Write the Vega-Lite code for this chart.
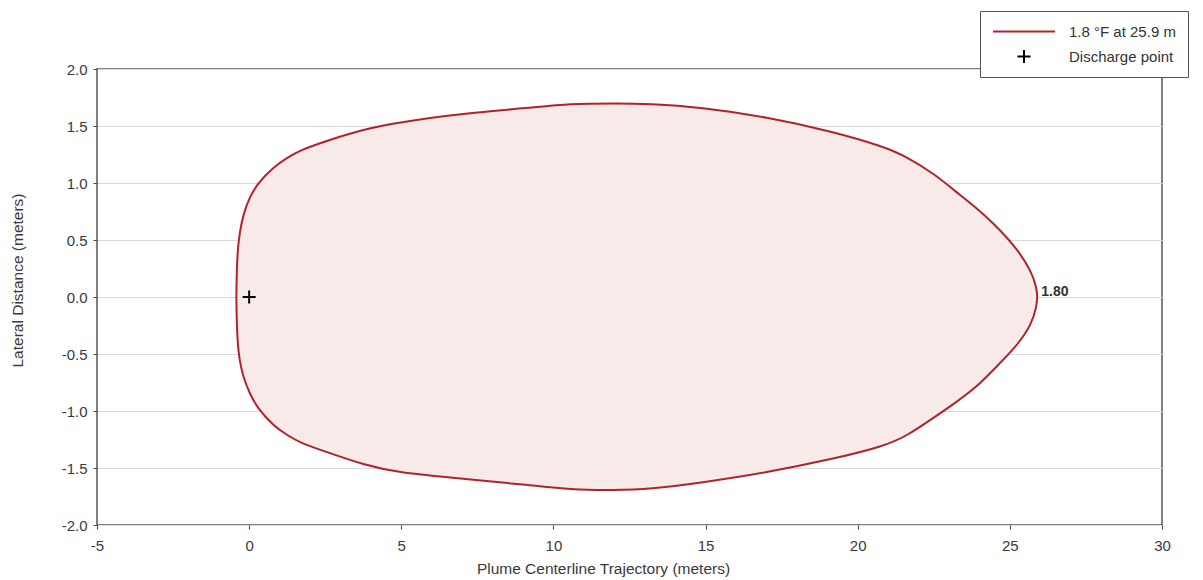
{
  "$schema": "https://vega.github.io/schema/vega-lite/v6.json",
  "width": 1065,
  "height": 456,
  "autosize": {"type": "none"},
  "padding": {"left": 97, "top": 69, "right": 41, "bottom": 55},
  "background": "white",
  "config": {
    "font": "Liberation Sans",
    "view": {"stroke": "#555555", "strokeWidth": 1.5},
    "axis": {
      "labelFont": "Liberation Sans",
      "titleFont": "Liberation Sans",
      "labelColor": "#3a3a3a",
      "titleColor": "#3a3a3a",
      "titleFontWeight": "normal",
      "labelFontSize": 15,
      "titleFontSize": 15.5,
      "domain": false,
      "tickColor": "#444444",
      "tickSize": 4,
      "labelFlush": false
    }
  },
  "datasets": {
    "plume": [
      {"x": -0.42, "upper": 0.0, "lower": 0.0},
      {"x": -0.41, "upper": 0.2, "lower": -0.2},
      {"x": -0.38, "upper": 0.4, "lower": -0.4},
      {"x": -0.32, "upper": 0.55, "lower": -0.55},
      {"x": -0.2, "upper": 0.72, "lower": -0.7},
      {"x": 0.02, "upper": 0.88, "lower": -0.85},
      {"x": 0.29, "upper": 1.0, "lower": -0.98},
      {"x": 0.8, "upper": 1.14, "lower": -1.13},
      {"x": 1.24, "upper": 1.22, "lower": -1.21},
      {"x": 1.68, "upper": 1.29, "lower": -1.28},
      {"x": 2.66, "upper": 1.38, "lower": -1.37},
      {"x": 3.75, "upper": 1.47, "lower": -1.47},
      {"x": 4.86, "upper": 1.53, "lower": -1.54},
      {"x": 7.03, "upper": 1.61, "lower": -1.595},
      {"x": 9.23, "upper": 1.66, "lower": -1.65},
      {"x": 10.55, "upper": 1.695, "lower": -1.69},
      {"x": 12.0, "upper": 1.7, "lower": -1.695},
      {"x": 13.18, "upper": 1.695, "lower": -1.685},
      {"x": 14.82, "upper": 1.665, "lower": -1.63},
      {"x": 17.01, "upper": 1.58, "lower": -1.54},
      {"x": 19.2, "upper": 1.45, "lower": -1.42},
      {"x": 20.85, "upper": 1.32, "lower": -1.31},
      {"x": 21.61, "upper": 1.23, "lower": -1.22},
      {"x": 22.49, "upper": 1.085, "lower": -1.06},
      {"x": 23.2, "upper": 0.93, "lower": -0.93},
      {"x": 23.91, "upper": 0.78, "lower": -0.79},
      {"x": 24.45, "upper": 0.65, "lower": -0.64},
      {"x": 25.2, "upper": 0.44, "lower": -0.44},
      {"x": 25.72, "upper": 0.22, "lower": -0.24},
      {"x": 25.88, "upper": 0.08, "lower": -0.08},
      {"x": 25.9, "upper": 0.0, "lower": 0.0}
    ],
    "discharge": [{"x": 0, "y": 0}],
    "peak": [{"x": 25.9, "y": 0, "label": "1.80"}]
  },
  "layer": [
    {
      "data": {"name": "plume"},
      "mark": {"type": "area", "interpolate": "basis", "fill": "#f9eaea", "opacity": 1},
      "encoding": {
        "x": {
          "field": "x",
          "type": "quantitative",
          "scale": {"domain": [-5, 30], "nice": false, "zero": false},
          "axis": {
            "title": "Plume Centerline Trajectory (meters)",
            "values": [-5, 0, 5, 10, 15, 20, 25, 30],
            "format": "d",
            "labelExpr": "replace(datum.label, '\u2212', '-')",
            "grid": false,
            "labelPadding": 9,
            "titleX": 506,
            "titleY": 43,
            "titleBaseline": "middle"
          }
        },
        "y": {
          "field": "upper",
          "type": "quantitative",
          "scale": {"domain": [-2, 2], "nice": false, "zero": false},
          "axis": {
            "title": "Lateral Distance (meters)",
            "values": [-2, -1.5, -1, -0.5, 0, 0.5, 1, 1.5, 2],
            "format": ".1f",
            "labelExpr": "replace(datum.label, '\u2212', '-')",
            "grid": true,
            "gridColor": "#d9d9d9",
            "labelPadding": 6,
            "titleX": -80,
            "titleY": 211,
            "titleBaseline": "middle"
          }
        },
        "y2": {"field": "lower"}
      }
    },
    {
      "data": {"name": "plume"},
      "mark": {"type": "line", "interpolate": "basis", "strokeWidth": 2},
      "encoding": {
        "x": {"field": "x", "type": "quantitative"},
        "y": {"field": "upper", "type": "quantitative"},
        "color": {
          "datum": "1.8 °F at 25.9 m",
          "scale": {"domain": ["1.8 °F at 25.9 m", "Discharge point"], "range": ["#b0232b", "#000000"]},
          "legend": {
            "title": null,
            "orient": "none",
            "legendX": 883,
            "legendY": -58,
            "padding": 12,
            "strokeColor": "#555555",
            "fillColor": "white",
            "labelFontSize": 15,
            "labelFont": "Liberation Sans",
            "labelColor": "#333333",
            "labelOffset": 13,
            "labelLimit": 300,
            "symbolSize": 3844,
            "symbolStrokeWidth": 2,
            "rowPadding": 8,
            "clipHeight": 17,
            "encode": {
              "symbols": {
                "update": {
                  "shape": {"signal": "datum.value === 'Discharge point' ? 'M-0.21,0H0.21M0,-0.21V0.21' : 'stroke'"},
                  "fill": {"value": "transparent"},
                  "strokeWidth": {"value": 2}
                }
              }
            }
          }
        }
      }
    },
    {
      "data": {"name": "plume"},
      "mark": {"type": "line", "interpolate": "basis", "strokeWidth": 2},
      "encoding": {
        "x": {"field": "x", "type": "quantitative"},
        "y": {"field": "lower", "type": "quantitative"},
        "color": {"datum": "1.8 °F at 25.9 m"}
      }
    },
    {
      "data": {"name": "discharge"},
      "mark": {"type": "point", "shape": "M-1,0H1M0,-1V1", "size": 169, "filled": false, "strokeWidth": 2, "opacity": 1},
      "encoding": {
        "x": {"field": "x", "type": "quantitative"},
        "y": {"field": "y", "type": "quantitative"},
        "color": {"datum": "Discharge point"}
      }
    },
    {
      "data": {"name": "peak"},
      "mark": {"type": "text", "align": "left", "baseline": "middle", "dx": 4, "dy": -5, "fontWeight": "bold", "fontSize": 14, "font": "Liberation Sans", "color": "#333333"},
      "encoding": {
        "x": {"field": "x", "type": "quantitative"},
        "y": {"field": "y", "type": "quantitative"},
        "text": {"field": "label"}
      }
    }
  ]
}
